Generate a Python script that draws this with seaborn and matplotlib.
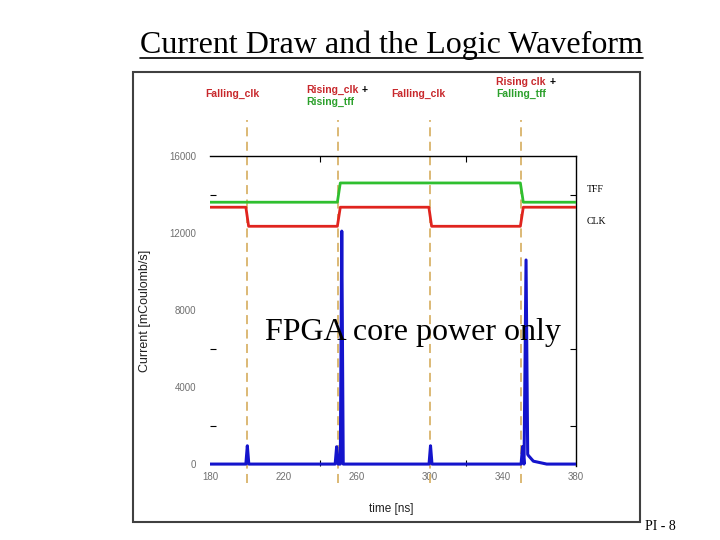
import matplotlib
matplotlib.use("Agg")
import matplotlib.pyplot as plt
import seaborn as sns
import pandas as pd
from matplotlib.patches import Rectangle
from matplotlib.lines import Line2D

# clock / flip-flop logic levels (plotted on the current scale)
clk_t = [180, 199.6, 201.1, 249.6, 251.2, 299.6, 301.1, 349.6, 351.2, 380]
clk_i = [13340, 13340, 12350, 12350, 13340, 13340, 12350, 12350, 13340, 13340]
tff_t = [180, 249.6, 251.2, 349.6, 351.2, 380]
tff_i = [13600, 13600, 14600, 14600, 13600, 13600]

# core current [mCoulomb/s]
cur_t = [180, 199.6, 200.4, 201.2, 248.4, 249.2, 250.0, 251.2, 252.0, 252.8,
         299.7, 300.5, 301.3, 350.0, 350.8, 351.6, 352.7, 353.6, 354.2, 356.7,
         364.0, 380]
cur_i = [0, 0, 950, 0, 0, 900, 0, 0, 12100, 0,
         0, 950, 0, 0, 900, 0, 10600, 500, 420, 150,
         0, 0]

edges = [200, 250, 300, 350]
xticks = [180, 220, 260, 300, 340, 380]
xminor = [240, 260, 320, 340]
yticks = [0, 4000, 8000, 12000, 16000]
yminor = [2000, 6000, 8000, 14000]

sns.set_style("white")
plt.rcParams['font.family'] = ['Liberation Sans', 'DejaVu Sans']
plt.rcParams['text.color'] = 'black'
plt.rcParams['axes.labelcolor'] = '#202020'

fig = plt.figure(figsize=(7.2, 5.4), dpi=100)
ax = fig.add_axes([210 / 720, 74 / 540, 366 / 720, 310 / 540])

for e in edges:
    ax.axvline(e, ymin=-0.055, ymax=1.115, clip_on=False, color='#d9b36a',
               lw=1.3, ls=(0, (5, 3)), zorder=1)

df_cur = pd.DataFrame({'t': cur_t, 'i': cur_i})
df_clk = pd.DataFrame({'t': clk_t, 'i': clk_i})
df_tff = pd.DataFrame({'t': tff_t, 'i': tff_i})
sns.lineplot(data=df_tff, x='t', y='i', ax=ax, color='#2fbf2f', lw=2,
             estimator=None, sort=False, zorder=3)
sns.lineplot(data=df_clk, x='t', y='i', ax=ax, color='#e0241e', lw=2,
             estimator=None, sort=False, zorder=3)
sns.lineplot(data=df_cur, x='t', y='i', ax=ax, color='#1414cc', lw=2.2,
             estimator=None, sort=False, zorder=4)

ax.set_xlim(180, 380)
ax.set_ylim(-100, 16000)
ax.set_xticks(xticks)
ax.set_xticklabels([str(v) for v in xticks])
ax.set_xticks(xminor, minor=True)
ax.set_yticks(yticks)
ax.set_yticklabels([str(v) for v in yticks])
ax.set_yticks(yminor, minor=True)
ax.tick_params(which='major', length=0, labelsize=7, labelcolor='#707070')
ax.tick_params(axis='y', which='major', pad=10)
ax.tick_params(axis='x', which='major', pad=4)
ax.tick_params(which='minor', direction='in', length=4, width=0.8, color='black',
               top=True, bottom=True, left=True, right=True)

for side in ['left', 'bottom']:
    ax.spines[side].set_visible(False)
for side in ['top', 'right']:
    ax.spines[side].set_visible(True)
    ax.spines[side].set_color('black')
    ax.spines[side].set_linewidth(1)

ax.set_xlabel('time [ns]', fontsize=8.5)
ax.set_ylabel('Current [mCoulomb/s]', fontsize=9)
ax.xaxis.set_label_coords(0.496, -0.12)
ax.yaxis.set_label_coords(-0.16, 0.50)

# edge annotations above the plot
red, green = '#c8282c', '#2ca02c'
ann = dict(fontsize=7.5, fontweight='bold', va='center')
fig.text(232 / 720, 1 - 94 / 540, 'Falling_clk', color=red, ha='center', **ann)
fig.text(306 / 720, 1 - 90 / 540, 'Rising_clk', color=red, ha='left', **ann)
fig.text(365 / 720, 1 - 90 / 540, '+', color='black', ha='center', **ann)
fig.text(306 / 720, 1 - 102 / 540, 'Rising_tff', color=green, ha='left', **ann)
fig.text(418 / 720, 1 - 94 / 540, 'Falling_clk', color=red, ha='center', **ann)
fig.text(496 / 720, 1 - 82 / 540, 'Rising clk', color=red, ha='left', **ann)
fig.text(553 / 720, 1 - 82 / 540, '+', color='black', ha='center', **ann)
fig.text(496 / 720, 1 - 94 / 540, 'Falling_tff', color=green, ha='left', **ann)

# signal names on the right
fig.text(587 / 720, 1 - 190 / 540, 'TFF', family='Liberation Serif', fontsize=7, va='center')
fig.text(587 / 720, 1 - 221 / 540, 'CLK', family='Liberation Serif', fontsize=7, va='center')

ax.text(0.554, 0.43, 'FPGA core power only', transform=ax.transAxes,
        family='Liberation Serif', fontsize=23, ha='center', va='center', zorder=6)

# picture frame and slide text
fig.add_artist(Rectangle((133 / 720, 18 / 540), 507 / 720, 450 / 540, fill=False,
                         edgecolor='#404040', lw=1.5, transform=fig.transFigure))
fig.text(391 / 720, 1 - 45 / 540, 'Current Draw and the Logic Waveform',
         family='Liberation Serif', fontsize=23, ha='center', va='center')
fig.add_artist(Line2D([140 / 720, 643 / 720], [1 - 58 / 540, 1 - 58 / 540],
                      color='black', lw=1.2, transform=fig.transFigure))
fig.text(660 / 720, 1 - 527 / 540, 'PI - 8', family='Liberation Serif',
         fontsize=10, ha='center', va='center')

fig.savefig('out.png', dpi=100)
